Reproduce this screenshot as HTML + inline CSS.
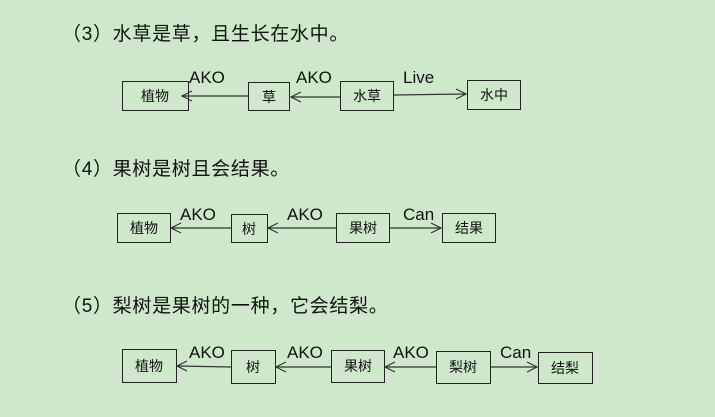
<!DOCTYPE html>
<html><head><meta charset="utf-8"><style>
html,body{margin:0;padding:0;background:#cfe8cc;}
svg{display:block}
.h{font-family:"Liberation Sans","Noto Sans CJK SC",sans-serif;font-size:19px;fill:#111;letter-spacing:0.7px}
.n{font-family:"Liberation Sans","Noto Sans CJK SC",sans-serif;font-size:14px;fill:#111;text-anchor:middle;dominant-baseline:central}
.l{font-family:"Liberation Sans",sans-serif;font-size:17px;fill:#111}
rect{fill:none;stroke:#222;stroke-width:1}
line{stroke:#333;stroke-width:1.2}
polyline{fill:none;stroke:#333;stroke-width:1.2}
</style></head><body>
<svg width="715" height="417" viewBox="0 0 715 417">
<text class="h" x="62" y="40">（3）水草是草，且生长在水中。</text>
<text class="h" x="62" y="175">（4）果树是树且会结果。</text>
<text class="h" x="62" y="312">（5）梨树是果树的一种，它会结梨。</text>

<rect x="122.5" y="81.5" width="66" height="29"/><text class="n" x="155" y="96">植物</text>
<rect x="248.5" y="82.5" width="41" height="28"/><text class="n" x="269" y="97">草</text>
<rect x="340.5" y="81.5" width="53" height="29"/><text class="n" x="367" y="96">水草</text>
<rect x="467.5" y="80.5" width="53" height="29"/><text class="n" x="494" y="95">水中</text>
<line x1="248" y1="96" x2="182" y2="96"/><polyline points="192,91 182,96 192,101"/>
<line x1="340" y1="97" x2="291" y2="97"/><polyline points="301,92 291,97 301,102"/>
<line x1="394" y1="95" x2="466" y2="94"/><polyline points="456,89 466,94 456,99"/>
<text class="l" x="189" y="83">AKO</text>
<text class="l" x="296" y="83">AKO</text>
<text class="l" x="403" y="83">Live</text>

<rect x="117.5" y="213.5" width="53" height="29"/><text class="n" x="144" y="228">植物</text>
<rect x="231.5" y="214.5" width="36" height="28"/><text class="n" x="249" y="229">树</text>
<rect x="336.5" y="213.5" width="53" height="29"/><text class="n" x="363" y="228">果树</text>
<rect x="442.5" y="213.5" width="53" height="29"/><text class="n" x="469" y="228">结果</text>
<line x1="231" y1="228" x2="171" y2="228"/><polyline points="181,223 171,228 181,233"/>
<line x1="336" y1="228" x2="268" y2="228"/><polyline points="278,223 268,228 278,233"/>
<line x1="390" y1="228" x2="441" y2="228"/><polyline points="431,223 441,228 431,233"/>
<text class="l" x="180" y="220">AKO</text>
<text class="l" x="287" y="220">AKO</text>
<text class="l" x="403" y="220">Can</text>

<rect x="122.5" y="349.5" width="54" height="33"/><text class="n" x="149" y="366">植物</text>
<rect x="231.5" y="350.5" width="44" height="33"/><text class="n" x="253" y="367">树</text>
<rect x="331.5" y="350.5" width="53" height="32"/><text class="n" x="358" y="366">果树</text>
<rect x="436.5" y="351.5" width="54" height="32"/><text class="n" x="463" y="367">梨树</text>
<rect x="538.5" y="352.5" width="54" height="31"/><text class="n" x="565" y="368">结梨</text>
<line x1="231" y1="367" x2="177" y2="366"/><polyline points="187,361 177,366 187,371"/>
<line x1="331" y1="367" x2="276" y2="367"/><polyline points="286,362 276,367 286,372"/>
<line x1="436" y1="367" x2="385" y2="367"/><polyline points="395,362 385,367 395,372"/>
<line x1="491" y1="367" x2="537" y2="367"/><polyline points="527,362 537,367 527,372"/>
<text class="l" x="189" y="358">AKO</text>
<text class="l" x="287" y="358">AKO</text>
<text class="l" x="393" y="358">AKO</text>
<text class="l" x="500" y="358">Can</text>
</svg>
</body></html>
